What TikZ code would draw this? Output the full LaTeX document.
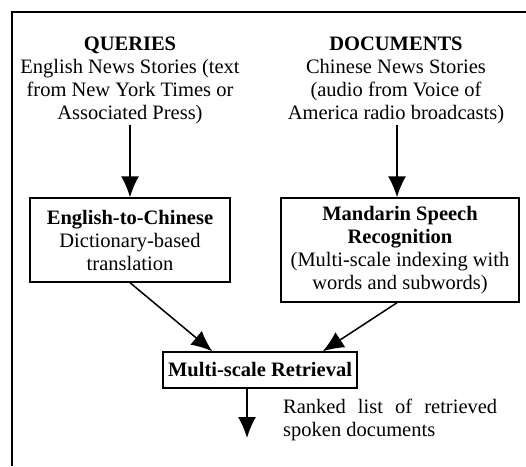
\documentclass[tikz,border=0pt]{standalone}
\usepackage{fontspec}
\setmainfont{Liberation Serif}
\usetikzlibrary{arrows.meta}

\tikzset{
	txt/.style={align=center, inner sep=1pt, font=\fontsize{20.5}{23}\selectfont},
	box/.style={draw, line width=1.4pt, align=center, inner sep=1pt, font=\fontsize{20.5}{23}\selectfont},
	arr/.style={line width=1.5pt, -{Latex[length=21pt,width=18pt]}}
}

\begin{document}
\begin{tikzpicture}[x=1pt, y=-1pt]
	\useasboundingbox (0,0) rectangle (526,466);
	\draw[line width=1.1pt] (526,12) -- (12,12) -- (12,466);%frame

	\node[txt] (queries) at (130,80) {\textbf{QUERIES}\\English News Stories (text\\from New York Times or\\Associated Press)};
	\node[txt] (docs) at (396,80) {\textbf{DOCUMENTS}\\Chinese News Stories\\(audio from Voice of\\America radio broadcasts)};

	\node[box, minimum width=200pt, minimum height=84pt] (trans) at (130,240) {\textbf{English-to-Chinese}\\Dictionary-based\\translation};
	\node[box, minimum width=238pt, minimum height=104pt] (asr) at (400,250) {\textbf{Mandarin Speech}\\\textbf{Recognition}\\(Multi-scale indexing with\\words and subwords)};
	\node[box, minimum width=194pt, minimum height=36pt] (retr) at (260,370) {\textbf{Multi-scale Retrieval}};

	\node[txt, anchor=west, text width=214pt, align=justify] (ranked) at (282,420) {Ranked list of retrieved\linebreak spoken documents};
	\coordinate (out) at (247,438);

	\draw[arr] (queries) -- (trans);
	\draw[arr] ([xshift=1pt]docs.south) -- ([xshift=1pt]docs.south |- asr.north);
	\draw[arr] (trans.south) -- ([xshift=50pt]retr.north west);
	\draw[arr] ([xshift=-3pt]asr.south) -- ([xshift=-35pt]retr.north east);
	\draw[arr] (out |- retr.south) -- (out);
\end{tikzpicture}
\end{document}
